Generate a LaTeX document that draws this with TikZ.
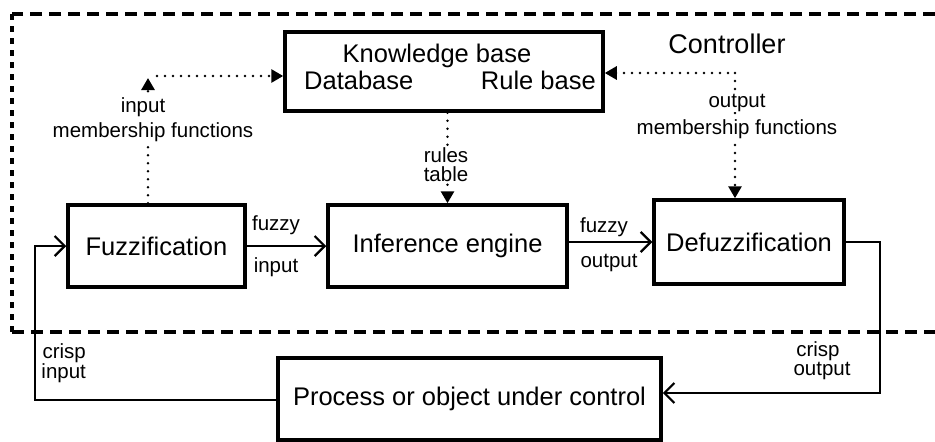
\documentclass[tikz,border=0pt]{standalone}
\usepackage{fontspec}
\setmainfont{Liberation Sans}
\usetikzlibrary{arrows.meta}
\tikzset{tri/.tip={Triangle[length=12pt,width=13pt]}}
\begin{document}
\begin{tikzpicture}[x=1pt,y=-1pt,
  box/.style={draw, line width=3.5pt, inner sep=0pt, font=\fontsize{25.5}{29}\selectfont},
  big/.style={font=\fontsize{25.5}{29}\selectfont, inner sep=0pt},
  small/.style={font=\fontsize{20.5}{22}\selectfont, inner sep=0.3pt, fill=white},
  conn/.style={line width=2.2pt, -{Straight Barb[length=10pt,width=20pt,line width=2.2pt]}},
  dotln/.style={line width=2.8pt, dash pattern=on 0pt off 8pt, line cap=round},
  border/.style={line width=3.5pt, dash pattern=on 12pt off 7pt},
  vborder/.style={line width=3.5pt, dash pattern=on 6pt off 6pt}]
\fill[white] (0,0) rectangle (935,442);
\useasboundingbox (0,0) rectangle (935,442);

% controller boundary
\coordinate (bTR) at (935,14);
\coordinate (bTL) at (12,14);
\coordinate (bBL) at (12,332);
\coordinate (bBR) at (935,332);
\draw[border] (bTR) -- (bTL);
\draw[vborder] (bTL) -- (bBL);
\draw[border] (bBL) -- (bBR);

% boxes
\node[box, minimum width=318pt, minimum height=79pt] (kb) at (444,71.5) {};
\node[big] (kbt) at (437,56) {Knowledge base};
\node[big, anchor=west] (db) at (304,80) {Database};
\node[big, anchor=east] (rb) at (596,80) {Rule base};
\node[box, minimum width=177pt, minimum height=82pt] (fuzz) at (156.5,246) {Fuzzification};
\node[box, minimum width=239pt, minimum height=82pt] (inf) at (447.5,246) {Inference engine};
\node[box, minimum width=190pt, minimum height=84pt] (defuzz) at (749,242) {Defuzzification};
\node[box, minimum width=383pt, minimum height=82pt] (proc) at (469.5,399) {Process or object under control};
\node[font=\fontsize{27}{30}\selectfont, inner sep=0pt] (ctrl) at (727,44) {Controller};

% solid connectors
\draw[conn] (fuzz.east) -- (inf.west);
\draw[conn] (inf.east |- defuzz.west) -- (defuzz.west);
\coordinate (dr) at (880,393);
\draw[conn] (defuzz.east) -| (dr) -- (proc.east |- dr);
\coordinate (fl) at (35,400);
\draw[conn] (proc.west |- fl) -- (fl) |- (fuzz.west);

% dotted connectors
\coordinate (imc) at (148,78);
\coordinate (ims) at (157,76);
\draw[dotln, -{tri}] (fuzz.north -| imc) -- (imc);
\draw[dotln, -{tri}] (ims) -- (kb.west |- ims);
\coordinate (omc) at (735,73);
\draw[dotln, {tri}-] (kb.east |- omc) -- (omc);
\draw[dotln, -{tri}] (omc) -- (defuzz.north -| omc);
\draw[dotln, -{tri}] (kb.south -| inf.north) -- (inf.north);

% labels
\node[small] (l1) at (143,107) {input};
\node[small] (l2) at (153,132) {membership functions};
\node[small] (l3) at (737,103) {output};
\node[small] (l4) at (737,129) {membership functions};
\node[small] (l5) at (446,155) {rules};
\node[small] (l6) at (446,174) {table};
\node[small, fill=none] (l7) at (276,225) {fuzzy};
\node[small, fill=none] (l8) at (276,267) {input};
\node[small, fill=none] (l9) at (604,227) {fuzzy};
\node[small, fill=none] (l10) at (609,263) {output};
\node[small, fill=none, anchor=west] (l11) at (42,353) {crisp};
\node[small, fill=none, anchor=west] (l12) at (41,373) {input};
\node[small, fill=none] (l13) at (818,351) {crisp};
\node[small, fill=none] (l14) at (822,371) {output};
\end{tikzpicture}
\end{document}
